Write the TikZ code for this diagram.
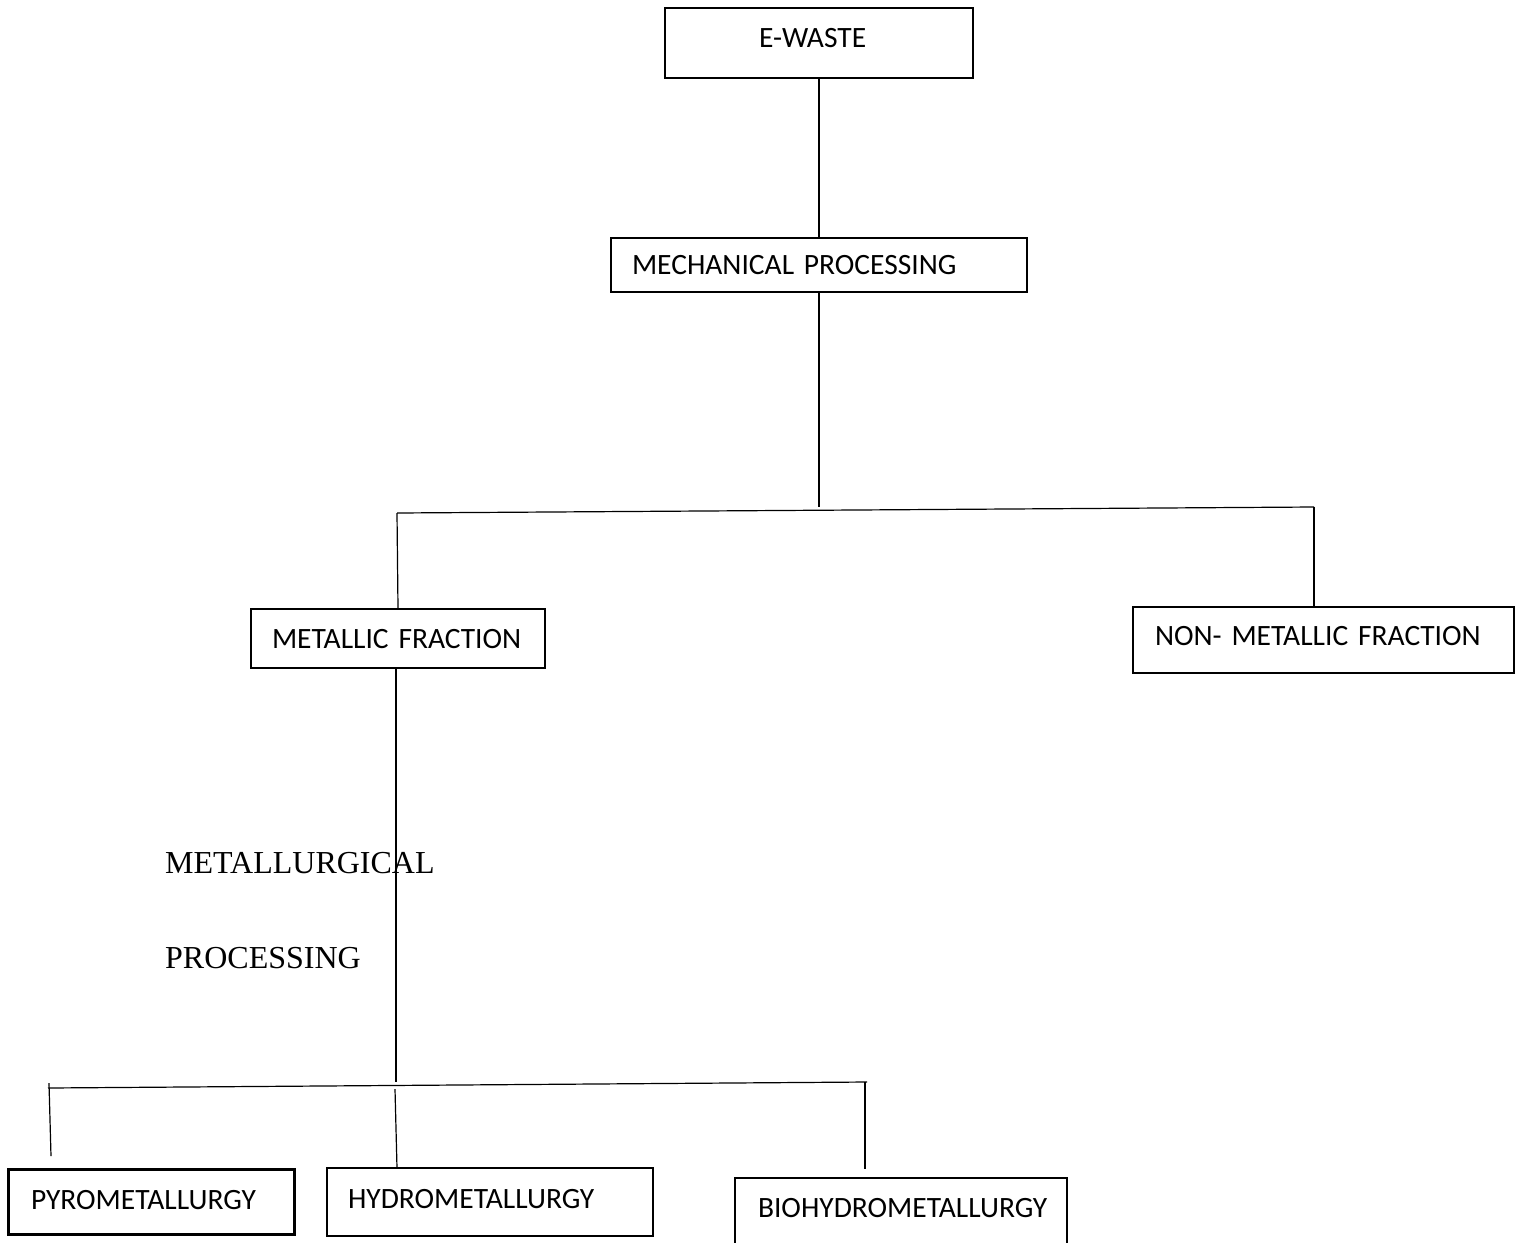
\documentclass[tikz,border=0pt]{standalone}
\usepackage{fontspec}
\setmainfont{Carlito}
\newfontfamily\timesfont{Liberation Serif}
\begin{document}
\begin{tikzpicture}[x=1pt,y=-1pt,
  box/.style={draw=black, line width=1.2pt, rectangle, inner ysep=0pt, align=left,
    font=\fontsize{29.5}{32}\selectfont, text height=19pt},
  conn/.style={draw=black, line width=1.2pt},
  lbl/.style={font=\timesfont\fontsize{32}{35}\selectfont, anchor=base west, inner sep=0pt}]
\useasboundingbox[fill=white] (0,0) rectangle (1522,1242);

% boxes
\node[box, minimum height=70pt, inner xsep=94pt, text width=120pt, text depth=10pt] (ewaste) at (819,43) {E-WASTE};
\node[box, minimum height=54pt, inner xsep=21pt, text width=374pt, text depth=0pt] (mech) at (819,265) {MECHANICAL PROCESSING};
\node[box, minimum height=59pt, inner xsep=21pt, text width=252pt, text depth=0pt] (metal) at (398,638.5) {METALLIC FRACTION};
\node[box, minimum height=66pt, inner xsep=22pt, text width=337pt, text depth=9pt] (nonmetal) at (1323.5,640) {NON- METALLIC FRACTION};
\node[box, line width=3pt, minimum height=65pt, inner xsep=23pt, text width=240pt, text depth=3pt] (pyro) at (151,1201.5) {PYROMETALLURGY};
\node[box, minimum height=68pt, inner xsep=21pt, text width=284pt, text depth=7pt] (hydro) at (490,1202) {HYDROMETALLURGY};
\node[box, minimum height=72pt, inner xsep=23pt, text width=286pt, text depth=12pt] (bio) at (901,1214) {BIOHYDROMETALLURGY};

% label
\node[lbl] (metlbl) at (165,873) {METALLURGICAL};
\node[lbl] (proclbl) at (165,968) {PROCESSING};

% junction coordinates
\coordinate (j1) at (819,507);
\coordinate (jL) at (397,513);
\coordinate (jR) at (1314,507);
\coordinate (mtop) at (396,668);
\coordinate (mdown) at (396,1082);
\coordinate (bL) at (48,1088);
\coordinate (bR) at (867,1082);
\coordinate (p1) at (49,1083);
\coordinate (p2) at (51,1156);
\coordinate (h1) at (395,1089);
\coordinate (h2) at (397,1168);
\coordinate (b1) at (865,1082);
\coordinate (b2) at (865,1169);

% connectors
\draw[conn] (ewaste.south) -- (mech.north);
\draw[conn] (mech.south) -- (j1);
\draw[conn] (jL) -- (jR);
\draw[conn] (jL) -- (metal.north);
\draw[conn] (jR) -- (jR |- nonmetal.north);
\draw[conn] (mtop) -- (mdown);
\draw[conn] (bL) -- (bR);
\draw[conn] (p1) -- (p2);
\draw[conn] (h1) -- (h2);
\draw[conn] (b1) -- (b2);
\end{tikzpicture}
\end{document}
